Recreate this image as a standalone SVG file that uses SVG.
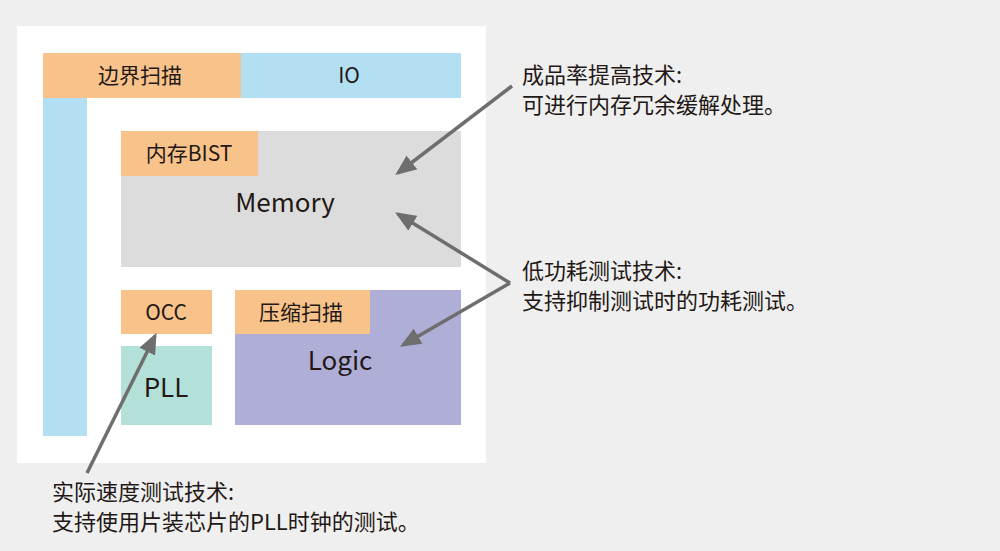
<svg xmlns="http://www.w3.org/2000/svg" width="1000" height="551" viewBox="0 0 1000 551">
<style>
text{font-family:"Noto Sans CJK SC","Noto Sans",sans-serif;fill:#231815}
.l{font-size:22px}
.n{font-size:21px;text-anchor:middle}
.b{font-size:26px;text-anchor:middle}
.c{stroke:#6e6e6e;stroke-width:3.5;fill:none;marker-end:url(#a)}
</style>
<defs><marker id="a" markerWidth="6" markerHeight="5" refX="5" refY="2.5" orient="auto" markerUnits="strokeWidth"><path d="M0,0L6,2.5L0,5z" fill="#6e6e6e"/></marker></defs>
<rect width="1000" height="551" fill="#efefef"/>
<rect x="17" y="26" width="469" height="437" fill="#fff"/>
<g id="io"><rect x="241" y="53" width="220" height="45" fill="#b3dff3"/><text class="n" x="349" y="83">IO</text></g>
<g id="scanbar"><rect x="43" y="98" width="44" height="338" fill="#b3dff3"/></g>
<g id="boundary"><rect x="43" y="53" width="198" height="45" fill="#f8c38b"/><text class="n" x="140" y="83">边界扫描</text></g>
<g id="memory"><rect x="121" y="131" width="340" height="136" fill="#dcdcdc"/><text class="b" x="285" y="212">Memory</text></g>
<g id="mbist"><rect x="121" y="131" width="137" height="45" fill="#f8c38b"/><text class="n" x="189" y="161">内存BIST</text></g>
<g id="occ"><rect x="121" y="290" width="91" height="44" fill="#f8c38b"/><text class="n" x="166" y="320">OCC</text></g>
<g id="pll"><rect x="121" y="346" width="91" height="79" fill="#b3e0d8"/><text class="b" x="166" y="397">PLL</text></g>
<g id="logic"><rect x="235" y="290" width="226" height="135" fill="#aeaed6"/><text class="b" x="340" y="370">Logic</text></g>
<g id="comp"><rect x="235" y="290" width="135" height="44" fill="#f8c38b"/><text class="n" x="301" y="320">压缩扫描</text></g>
<g id="connectors">
<path class="c" d="M512,86L398,173"/>
<path class="c" d="M510,283L398,214"/>
<path class="c" d="M510,283L403,345"/>
<path class="c" d="M87,473L155,336"/>
</g>
<g id="notes">
<text class="l" x="522" y="83">成品率提高技术:</text>
<text class="l" x="522" y="113">可进行内存冗余缓解处理。</text>
<text class="l" x="522" y="279">低功耗测试技术:</text>
<text class="l" x="522" y="309">支持抑制测试时的功耗测试。</text>
<text class="l" x="52" y="500">实际速度测试技术:</text>
<text class="l" x="52" y="530">支持使用片装芯片的PLL时钟的测试。</text>
</g>
</svg>
